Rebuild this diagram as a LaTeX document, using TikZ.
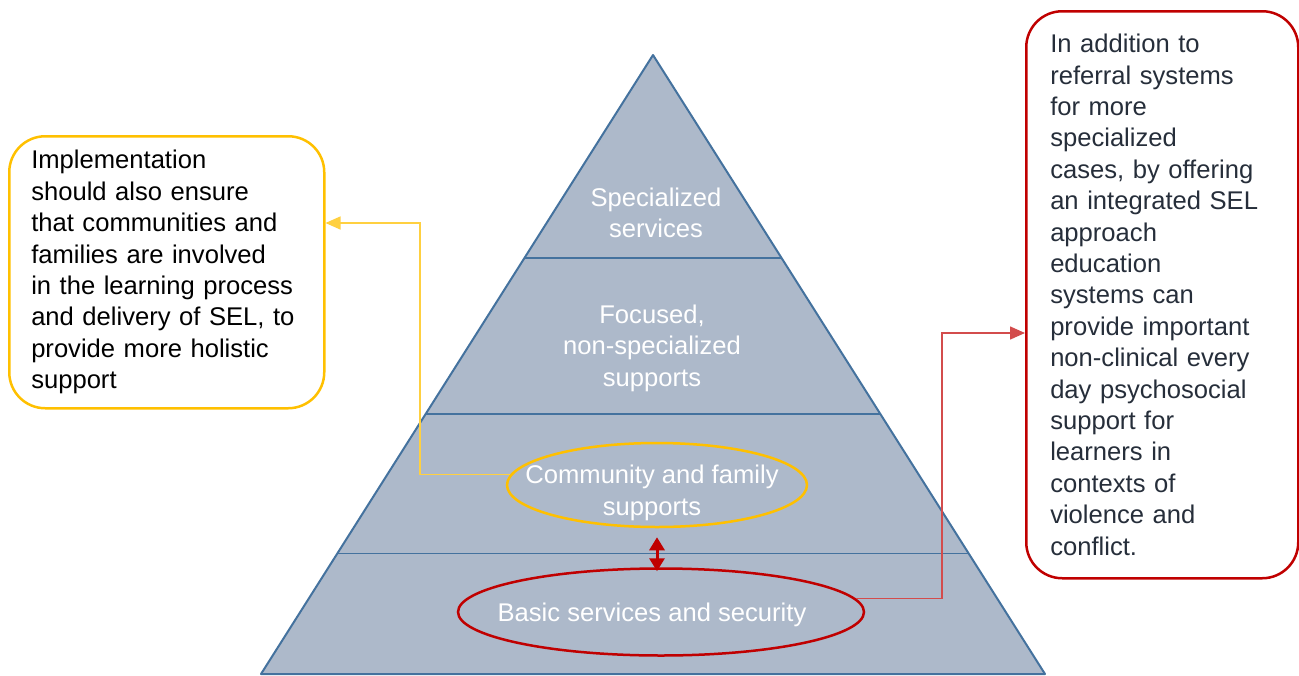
\documentclass[tikz,border=0pt]{standalone}
\usepackage{fontspec}
\setmainfont{Liberation Sans}
\usetikzlibrary{calc,shapes.geometric,arrows.meta}
\definecolor{pyrfill}{RGB}{173,185,202}
\definecolor{pyredge}{RGB}{68,114,158}
\definecolor{gold}{RGB}{255,192,0}
\definecolor{crimson}{RGB}{192,0,0}
\definecolor{slate}{RGB}{38,46,58}

\begin{document}
\begin{tikzpicture}[x=1pt,y=-1pt,>={Triangle[length=15pt,width=13pt]}]
   \tikzset{txt/.style={font=\fontsize{25.6}{31.4}\selectfont},
            lvl/.style={txt, text=white, align=center, inner sep=0pt},
            ring/.style 2 args={draw=#1, ellipse, line width=2.5pt, minimum width=#2, inner sep=0pt},
            box/.style 2 args={txt, draw=#1, line width=2.5pt, rounded corners=36pt, anchor=north west,
                align=left, text width=#2, inner ysep=0pt}};
\useasboundingbox (0,0) rectangle (1299,675);

%pyramid--------------------------
\coordinate (A) at (653,55);
\coordinate (BL) at (261,674);
\coordinate (BR) at (1045,674);
\filldraw[fill=pyrfill, draw=pyredge, line width=2pt, line join=round] (A) -- (BR) -- (BL) -- cycle;

\foreach \t in {0.328,0.580,0.805}{
    \draw[pyredge, line width=1.5pt] ($(A)!\t!(BL)$) -- ($(A)!\t!(BR)$);
}

\node[lvl] (spec) at (656,213) {Specialized\\services};
\node[lvl] (foc) at (652,348) {Focused,\\non-specialized\\supports};
\node[lvl] (commtxt) at (652,493) {Community and family\\supports};
\node[lvl] (basictxt) at (652,615) {Basic services and security};

\node[ring={gold}{300}, minimum height=84] (comm) at (657,485) {};
\node[ring={crimson}{406}, minimum height=87] (basic) at (661,612) {};

%boxes----------------------------
\node[box={gold}{271}, inner xsep=22pt, minimum width=315, minimum height=272] (lbox) at (8,135)
    {Implementation\\should also ensure\\that communities and\\families are involved\\in the learning process\\and delivery of SEL, to\\provide more holistic\\support};

\node[box={crimson}{224}, text=slate, inner xsep=24pt, minimum width=272, minimum height=567] (rbox) at (1025,10)
    {In addition to\\referral systems\\for more\\specialized\\cases, by offering\\an integrated SEL\\approach\\education\\systems can\\provide important\\non-clinical every\\day psychosocial\\support for\\learners in\\contexts of\\violence and\\conflict.};

%links----------------------------
\coordinate (ybend) at (420,223);
\coordinate (rbend) at (942,333);

\draw[gold!75, line width=1.5pt, ->] (comm.176) -| (ybend) -- (lbox.east |- ybend);
\draw[crimson!70, line width=1.5pt, ->] (basic.4) -| (rbend) -- (rbox.west |- rbend);
\draw[crimson, line width=3pt, {Triangle[length=13pt,width=15pt]}-{Triangle[length=13pt,width=15pt]},
      shorten <=9pt, shorten >=-4pt] (comm.south) -- (comm.south |- basic.north);

\end{tikzpicture}
\end{document}
